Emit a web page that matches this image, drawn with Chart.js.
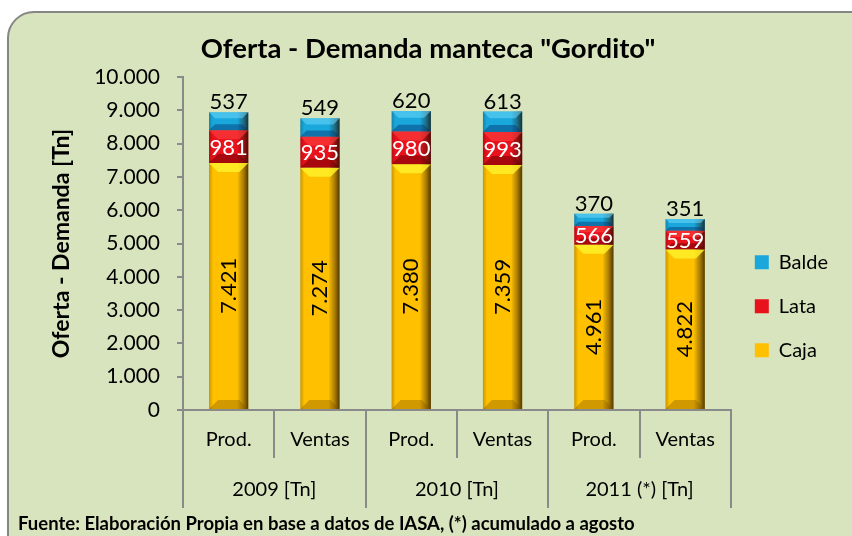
<!DOCTYPE html>
<html><head><meta charset="utf-8">
<script src="https://cdn.jsdelivr.net/npm/chart.js@4/dist/chart.umd.min.js"></script>
<style>html,body{margin:0;padding:0;background:#fff}#wrap{width:852px;height:536px}</style>
</head><body><div id="wrap"><canvas id="c" width="852" height="536"></canvas></div>
<script>
const categories = ['Prod.', 'Ventas', 'Prod.', 'Ventas', 'Prod.', 'Ventas'];
const groups = ['2009 [Tn]', '2010 [Tn]', '2011 (*) [Tn]'];
const seriesNames = ['Caja', 'Lata', 'Balde'];
const caja = [7421, 7274, 7380, 7359, 4961, 4822];
const lata = [981, 935, 980, 993, 566, 559];
const balde = [537, 549, 620, 613, 370, 351];
const titleText = 'Oferta - Demanda manteca "Gordito"';
const yTitle = 'Oferta - Demanda [Tn]';
const footer = 'Fuente: Elaboración Propia en base a datos de IASA, (*) acumulado a agosto';

const FONT = 'Lato';
const fmt = n => String(n).replace(/\B(?=(\d{3})+(?!\d))/g, '.');

const baseColors = ['#ffc000', '#e8121c', '#1aa8dc'];
const highlights = ['rgba(255,240,40,0.85)', 'rgba(255,70,70,0.55)', 'rgba(110,215,250,0.55)'];
const lows = ['rgba(120,80,0,0.35)', 'rgba(90,0,0,0.45)', 'rgba(0,50,110,0.45)'];

const bgPlugin = {
  id: 'bg',
  beforeDraw(chart) {
    const {ctx, width, height} = chart;
    ctx.save();
    ctx.fillStyle = '#fff';
    ctx.fillRect(0, 0, width, height);
    ctx.beginPath();
    ctx.roundRect(8, 12, width + 30, height + 30, 26);
    ctx.fillStyle = '#d8e4bd';
    ctx.fill();
    ctx.lineWidth = 2;
    ctx.strokeStyle = '#868686';
    ctx.stroke();
    ctx.restore();
  }
};

const bevelPlugin = {
  id: 'bevel',
  afterDatasetsDraw(chart) {
    const ctx = chart.ctx;
    ctx.save();
    chart.data.datasets.forEach((ds, di) => {
      const meta = chart.getDatasetMeta(di);
      meta.data.forEach(bar => {
        const p = bar.getProps(['x', 'y', 'base', 'width'], true);
        const l = p.x - p.width / 2, r = p.x + p.width / 2;
        const t = Math.min(p.y, p.base), b = Math.max(p.y, p.base);
        const h = b - t;
        const g = ctx.createLinearGradient(l, 0, r, 0);
        g.addColorStop(0, 'rgba(0,0,0,0.22)');
        g.addColorStop(0.1, 'rgba(0,0,0,0.0)');
        g.addColorStop(0.72, 'rgba(0,0,0,0.0)');
        g.addColorStop(0.86, 'rgba(40,20,0,0.35)');
        g.addColorStop(1, 'rgba(20,10,0,0.75)');
        ctx.fillStyle = g;
        ctx.fillRect(l, t, r - l, h);
        const bv = Math.min(9, h / 3);
        ctx.beginPath();
        ctx.moveTo(l, t); ctx.lineTo(r, t); ctx.lineTo(r - bv, t + bv); ctx.lineTo(l + bv, t + bv); ctx.closePath();
        ctx.fillStyle = highlights[di];
        ctx.fill();
        ctx.beginPath();
        ctx.moveTo(l, b); ctx.lineTo(r, b); ctx.lineTo(r - bv, b - bv); ctx.lineTo(l + bv, b - bv); ctx.closePath();
        ctx.fillStyle = lows[di];
        ctx.fill();
      });
    });
    ctx.restore();
  }
};

const labelPlugin = {
  id: 'vlabels',
  afterDatasetsDraw(chart) {
    const ctx = chart.ctx;
    ctx.save();
    ctx.font = '22px ' + FONT;
    chart.data.datasets.forEach((ds, di) => {
      const meta = chart.getDatasetMeta(di);
      meta.data.forEach((bar, i) => {
        const p = bar.getProps(['x', 'y', 'base'], true);
        const txt = fmt(ds.data[i]);
        if (di === 0) {
          ctx.save();
          ctx.translate(p.x, (p.y + p.base) / 2);
          ctx.rotate(-Math.PI / 2);
          ctx.fillStyle = '#000';
          ctx.textAlign = 'center';
          ctx.textBaseline = 'middle';
          ctx.fillText(txt, 0, 0);
          ctx.restore();
        } else if (di === 1) {
          ctx.fillStyle = '#fff';
          ctx.textAlign = 'center';
          ctx.textBaseline = 'middle';
          ctx.fillText(txt, p.x, (p.y + p.base) / 2 + 1);
        } else {
          ctx.fillStyle = '#000';
          ctx.textAlign = 'center';
          ctx.textBaseline = 'bottom';
          ctx.fillText(txt, p.x, p.y + 1);
        }
      });
    });
    ctx.restore();
  }
};

const gridColor = '#8a8a8a';

new Chart(document.getElementById('c'), {
  type: 'bar',
  data: {
    labels: categories,
    datasets: [
      {label: seriesNames[0], data: caja, backgroundColor: baseColors[0], borderWidth: 0},
      {label: seriesNames[1], data: lata, backgroundColor: baseColors[1], borderWidth: 0},
      {label: seriesNames[2], data: balde, backgroundColor: baseColors[2], borderWidth: 0}
    ]
  },
  options: {
    responsive: false,
    animation: false,
    devicePixelRatio: 1,
    layout: {padding: {left: 18, right: 14, top: 0, bottom: 0}},
    datasets: {bar: {barPercentage: 0.43, categoryPercentage: 1}},
    plugins: {
      tooltip: {enabled: false},
      title: {display: true, text: titleText, color: '#000',
        font: {family: FONT, size: 27.5, weight: 'bold'}, padding: {top: 32.5, bottom: 11.5}},
      subtitle: {display: true, text: footer, position: 'bottom', align: 'start', color: '#000',
        font: {family: FONT, size: 18.5, weight: 'bold'}, padding: {top: 5, bottom: 0.8}},
      legend: {position: 'right', reverse: true,
        title: {display: true, text: '', padding: {top: 0, bottom: 62}},
        labels: {font: {family: FONT, size: 20}, color: '#000', boxWidth: 14, boxHeight: 14, padding: 24}}
    },
    scales: {
      x: {stacked: true, position: 'bottom', offset: true,
        grid: {offset: true, drawOnChartArea: false, tickLength: 48, color: gridColor, lineWidth: 2},
        border: {display: true, color: gridColor, width: 2},
        ticks: {font: {family: FONT, size: 20}, color: '#000', padding: -30, maxRotation: 0, autoSkip: false},
        afterFit: s => { s.height = 48; }
      },
      x2: {type: 'category', labels: groups, position: 'bottom', offset: true,
        grid: {offset: true, drawOnChartArea: false, tickLength: 50, color: gridColor, lineWidth: 2},
        border: {display: false},
        ticks: {font: {family: FONT, size: 20}, color: '#000', padding: -30, maxRotation: 0, autoSkip: false},
        afterFit: s => { s.height = 50; }
      },
      y: {stacked: true, min: 0, max: 10000,
        ticks: {stepSize: 1000, font: {family: FONT, size: 21}, color: '#000', padding: 17, callback: v => fmt(v)},
        grid: {drawOnChartArea: false, tickLength: 6, color: gridColor, lineWidth: 2},
        border: {display: true, color: gridColor, width: 2},
        title: {display: true, text: yTitle, color: '#000', font: {family: FONT, size: 23, weight: 'bold'}, padding: {top: 30, bottom: 0}},
        afterFit: s => { s.width = 165; }
      }
    }
  },
  plugins: [bgPlugin, bevelPlugin, labelPlugin]
});
</script></body></html>
